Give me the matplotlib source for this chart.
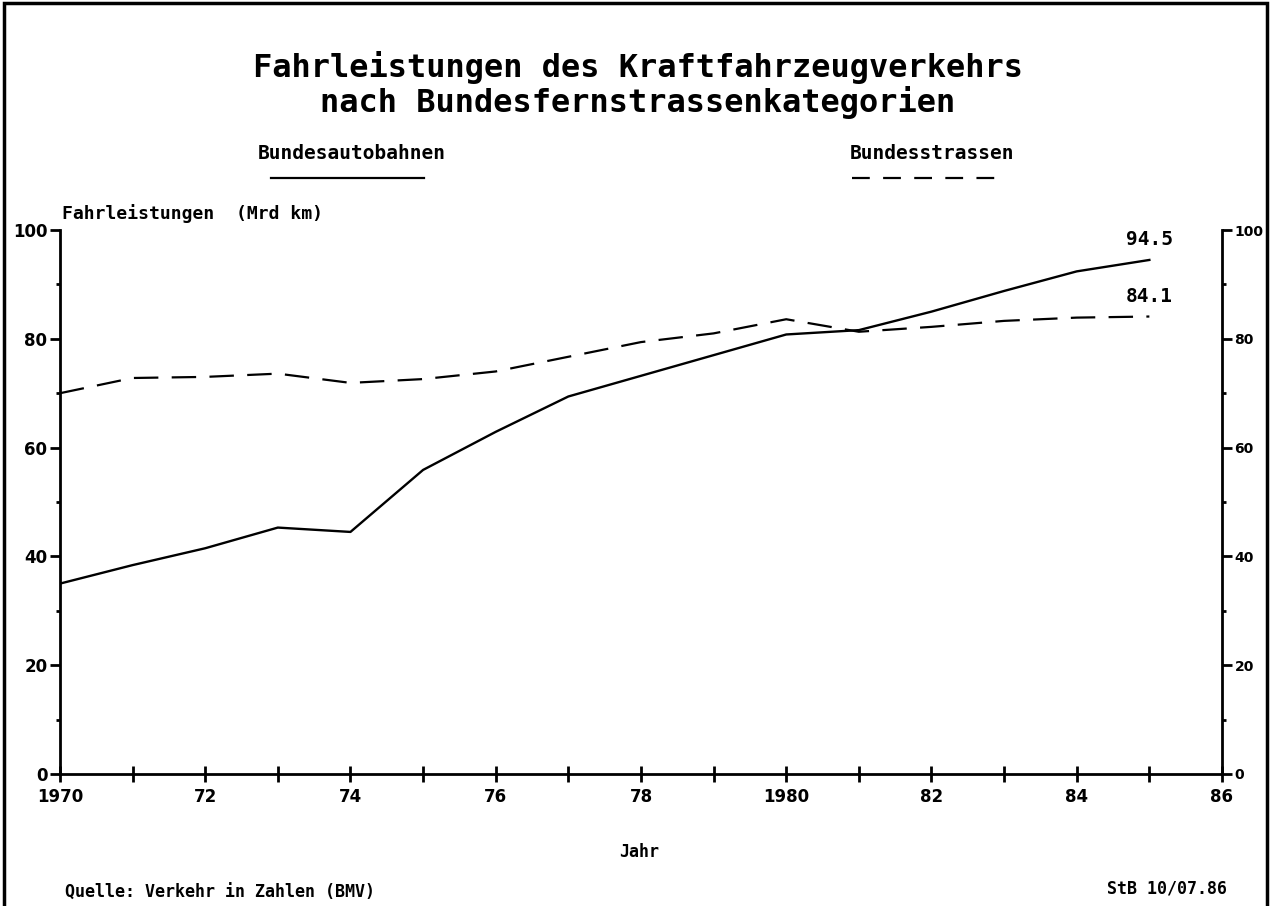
import matplotlib
matplotlib.use("Agg")
import matplotlib.pyplot as plt
from matplotlib.patches import Rectangle
from matplotlib.ticker import MultipleLocator

# Data (Mrd km)
years = [1970, 1971, 1972, 1973, 1974, 1975, 1976, 1977, 1978, 1979,
         1980, 1981, 1982, 1983, 1984, 1985]
autobahnen = [35.0, 38.4, 41.5, 45.3, 44.5, 55.9, 62.9, 69.4, 73.2, 77.0,
              80.8, 81.6, 85.0, 88.8, 92.4, 94.5]
strassen = [70.0, 72.8, 73.0, 73.6, 71.9, 72.6, 74.0, 76.7, 79.4, 81.0,
            83.6, 81.3, 82.2, 83.3, 83.9, 84.1]
xtick_pos = [1970, 1972, 1974, 1976, 1978, 1980, 1982, 1984, 1986]
xtick_lab = ['1970', '72', '74', '76', '78', '1980', '82', '84', '86']
ytick_pos = [0, 20, 40, 60, 80, 100]

mono = 'DejaVu Sans Mono'
dash = (11, 6)

fig = plt.figure(figsize=(12.7, 9.06), dpi=100)
ax = fig.add_axes([0.0472, 0.1457, 0.9150, 0.6004])

ax.plot(years, autobahnen, color='black', lw=1.7)
ax.plot(years, strassen, color='black', lw=1.6, dashes=dash)

ax.set_xlim(1970, 1986)
ax.set_ylim(0, 100)

ax.spines['top'].set_visible(False)
for s in ['left', 'right', 'bottom']:
    ax.spines[s].set_linewidth(2)

ax.set_xticks(xtick_pos)
ax.set_xticklabels(xtick_lab)
ax.xaxis.set_minor_locator(MultipleLocator(1))
ax.tick_params(axis='x', which='both', direction='inout', length=12, width=2,
               pad=4)
ax.set_yticks(ytick_pos)
ax.yaxis.set_minor_locator(MultipleLocator(10))
ax.tick_params(axis='y', which='major', direction='out', length=7, width=2,
               left=True, right=True, labelleft=True, labelright=True, pad=2)
ax.tick_params(axis='y', which='minor', direction='out', length=3, width=2,
               left=True, right=True)
for lab in ax.get_xticklabels():
    lab.set_fontweight('bold')
    lab.set_fontsize(12)
for tick in ax.yaxis.get_major_ticks():
    tick.label1.set_fontweight('bold')
    tick.label1.set_fontsize(12)
    tick.label2.set_fontweight('bold')
    tick.label2.set_fontsize(10)

# end value labels
ax.text(1985, autobahnen[-1] + 2, '94.5', ha='center', va='bottom',
        fontsize=14, fontweight='bold', family=mono)
ax.text(1985, strassen[-1] + 2, '84.1', ha='center', va='bottom',
        fontsize=14, fontweight='bold', family=mono)

ax.text(0.002, 1.031, 'Fahrleistungen  (Mrd km)', transform=ax.transAxes,
        fontsize=13, fontweight='bold', family=mono, ha='left', va='center')

# title
fig.text(0.502, 0.926, 'Fahrleistungen des Kraftfahrzeugverkehrs',
         ha='center', va='center', fontsize=23, fontweight='bold', family=mono)
fig.text(0.502, 0.887, 'nach Bundesfernstrassenkategorien',
         ha='center', va='center', fontsize=23, fontweight='bold', family=mono)

# legend
fig.text(0.277, 0.831, 'Bundesautobahnen', ha='center', va='center',
         fontsize=14, fontweight='bold', family=mono)
fig.add_artist(plt.Line2D([0.213, 0.334], [0.804, 0.804], color='black',
                          lw=1.6))
fig.text(0.734, 0.831, 'Bundesstrassen', ha='center', va='center',
         fontsize=14, fontweight='bold', family=mono)
fig.add_artist(plt.Line2D([0.671, 0.784], [0.804, 0.804], color='black',
                          lw=1.6, dashes=(8, 6)))

# x label and footers
fig.text(0.503, 0.060, 'Jahr', ha='center', va='center', fontsize=12,
         fontweight='bold', family=mono)
fig.text(0.051, 0.0145, 'Quelle: Verkehr in Zahlen (BMV)', ha='left',
         va='center', fontsize=12, fontweight='bold', family=mono)
fig.text(0.966, 0.019, 'StB 10/07.86', ha='right', va='center', fontsize=12,
         fontweight='bold', family=mono)

# outer frame
fig.add_artist(Rectangle((0.003, -0.01), 0.995, 1.007, transform=fig.transFigure,
                         fill=False, edgecolor='black', lw=2.5))

fig.savefig('out.png', dpi=100)
